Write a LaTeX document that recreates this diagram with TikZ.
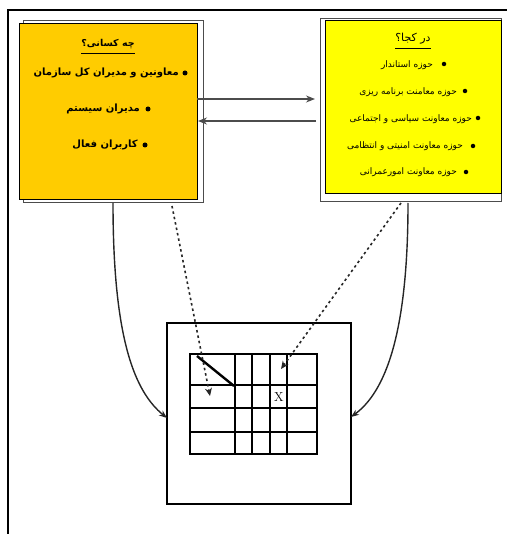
\documentclass[tikz,border=0pt]{standalone}
\usepackage{fontspec}
\usetikzlibrary{arrows.meta,calc}
\newfontfamily\arabicfont[Script=Arabic]{DejaVu Sans}
\TeXXeTstate=1
\definecolor{orangebox}{HTML}{FFCC00}
\definecolor{yellowbox}{HTML}{FFFF00}
\begin{document}
\begin{tikzpicture}[x=1pt,y=-1pt,
  backbox/.style={draw=black!70,fill=white,line width=1pt},
  mainbox/.style={draw=black,line width=1pt},
  ltext/.style={font=\arabicfont\bfseries\fontsize{10}{12}\selectfont,inner sep=0pt,anchor=east},
  rtext/.style={font=\arabicfont\fontsize{9}{10}\selectfont,inner sep=0pt,anchor=east},
  bul/.style={circle,fill=black,inner sep=0pt,minimum size=5pt},
  link/.style={draw=black!70,line width=1.2pt,-{Stealth[length=9pt,width=7pt]}},
  curvearr/.style={draw=black!85,line width=1.4pt,-{Stealth[length=8pt,width=6pt]}},
  dotarr/.style={draw=black!85,line width=1.6pt,dash pattern=on 2.5pt off 3pt,-{Stealth[length=8pt,width=7pt]}},
  gridline/.style={line width=1.5pt}]
\useasboundingbox (0,0) rectangle (507,534);
% outer frame
\draw[line width=2.6pt] (8,534) -- (8,10) -- (507,10);
% left box
\draw[backbox] (23,21) rectangle (203,203);
\draw[mainbox,fill=orangebox] (19,24) rectangle (197,200);
% right box
\draw[backbox] (320,19) rectangle (501,202);
\draw[mainbox,fill=yellowbox] (325,21) rectangle (501,194);
% named anchors
\coordinate (la1) at (197,99);
\coordinate (ra1) at (315,99);
\coordinate (ra2) at (316,121);
\coordinate (la2) at (198,121);
% titles
\node[font=\arabicfont\bfseries\fontsize{9.5}{12}\selectfont,inner sep=0pt] (lt) at (108,44) {\beginR چه کسانی؟\endR};
\draw[line width=0.8pt] (lt.south west) ++(0,4) -- ($(lt.south east)+(0,4)$);
\node[font=\arabicfont\fontsize{11}{12}\selectfont,inner sep=0pt] (rt) at (413,39) {\beginR در کجا؟\endR};
\draw[line width=0.8pt] (rt.south west) ++(0,4) -- ($(rt.south east)+(0,4)$);
% left items
\node[bul] (lb1) at (185,73) {};
\node[ltext] (l1) at (179,73) {\beginR معاونین و مدیران کل سازمان\endR};
\node[bul] (lb2) at (148,109) {};
\node[ltext] (l2) at (140,109) {\beginR مدیران سیستم\endR};
\node[bul] (lb3) at (145,145) {};
\node[ltext] (l3) at (138,145) {\beginR کاربران فعال\endR};
% right items
\node[bul,minimum size=4.5pt] (rb1) at (444,64) {};
\node[rtext] (r1) at (433,65) {\beginR حوزه استاندار\endR};
\node[bul,minimum size=4.5pt] (rb2) at (465,91) {};
\node[rtext] (r2) at (457,92) {\beginR حوزه معامنت برنامه ریزی\endR};
\node[bul,minimum size=4.5pt] (rb3) at (478,118) {};
\node[rtext] (r3) at (472,119) {\beginR حوزه معاونت سیاسی و اجتماعی\endR};
\node[bul,minimum size=4.5pt] (rb4) at (473,146) {};
\node[rtext] (r4) at (463,146) {\beginR حوزه معاونت امنیتی و انتظامی\endR};
\node[bul,minimum size=4.5pt] (rb5) at (466,172) {};
\node[rtext] (r5) at (457,172) {\beginR حوزه معاونت امورعمرانی\endR};
% horizontal arrows
\draw[link] (la1) -- (ra1);
\draw[link] (ra2) -- (la2);
% bottom box
\draw[line width=1.8pt] (167,323) rectangle (351,504);
\draw[gridline] (190,354) rectangle (317,454);
\foreach \yy in {385,408,432} \draw[gridline] (190,\yy) -- (317,\yy);
\foreach \xx in {235,252,270,287} \draw[gridline] (\xx,354) -- (\xx,454);
\draw[line width=2.4pt] (197,356) -- (234,386);
\node[font=\fontsize{13}{14}\selectfont,inner sep=0pt] (xmark) at (279,397) {X};
% curves
\coordinate (cs1) at (113,203);
\coordinate (ce1) at (167,418);
\coordinate (cs2) at (408,203);
\coordinate (ce2) at (351,417);
\draw[curvearr] (cs1) .. controls (113,340) and (135,392) .. (ce1);
\draw[curvearr] (cs2) .. controls (408,335) and (385,392) .. (ce2);
% dotted arrows
\coordinate (ds1) at (172,206);
\coordinate (de1) at (210,396);
\coordinate (ds2) at (401,203);
\coordinate (de2) at (281,369);
\draw[dotarr] (ds1) -- (de1);
\draw[dotarr] (ds2) -- (de2);
\end{tikzpicture}
\end{document}
